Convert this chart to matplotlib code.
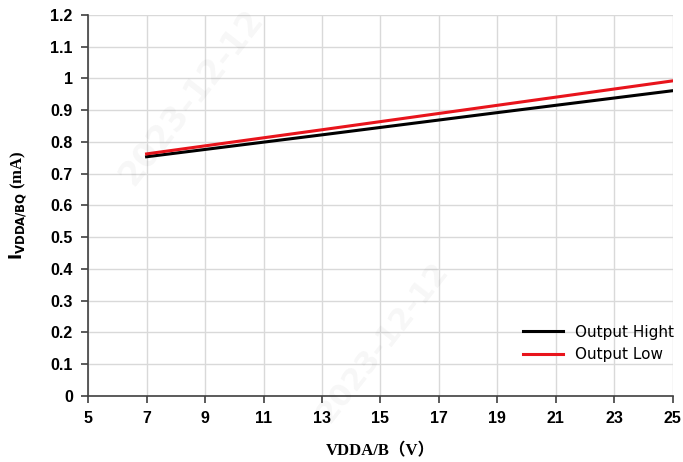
import matplotlib.pyplot as plt

# supply voltage (V) and quiescent current (mA)
vdda = [7, 13, 19, 25]
i_high = [0.753, 0.822, 0.892, 0.961]
i_low = [0.762, 0.838, 0.915, 0.992]

x_ticks = [5, 7, 9, 11, 13, 15, 17, 19, 21, 23, 25]
y_ticks = [0, 0.1, 0.2, 0.3, 0.4, 0.5, 0.6, 0.7, 0.8, 0.9, 1, 1.1, 1.2]

fig = plt.figure(figsize=(6.83, 4.62), dpi=100)
ax = fig.add_axes([0.129, 0.143, 0.856, 0.825])

ax.plot(vdda, i_high, color='black', lw=2.2, label='Output Hight', zorder=3)
ax.plot(vdda, i_low, color='#e8141c', lw=2.2, label='Output Low', zorder=4)

ax.set_xlim(5, 25)
ax.set_ylim(0, 1.2)
ax.set_xticks(x_ticks)
ax.set_yticks(y_ticks)
ax.set_xticklabels([str(v) for v in x_ticks])
ax.set_yticklabels(['0' if v == 0 else ('1' if v == 1 else f'{v:.1f}') for v in y_ticks])
ax.grid(color='#d9d9d9', lw=1)
ax.set_axisbelow(True)

for s in ['top', 'right']:
    ax.spines[s].set_visible(False)
for s in ['left', 'bottom']:
    ax.spines[s].set_color('#404040')
    ax.spines[s].set_linewidth(1.2)

ax.tick_params(axis='both', length=5, width=1.2, color='#404040', labelsize=11.5, pad=6)
for lab in ax.get_xticklabels() + ax.get_yticklabels():
    lab.set_fontweight('bold')
    lab.set_family('Liberation Sans')

ax.set_xlabel('VDDA/B（V）', fontsize=12, fontweight='bold',
              family=['Liberation Serif', 'Noto Sans CJK SC'], labelpad=12)
ax.set_ylabel(r'$\mathbf{I_{VDDA/BQ}}$ (mA)', fontsize=12, fontweight='bold',
              family='Liberation Serif', labelpad=16)

leg = ax.legend(loc='lower right', frameon=False, fontsize=11,
                handlelength=2.6, borderaxespad=0.3, labelspacing=0.5,
                bbox_to_anchor=(1.02, 0.06))

# faint date stamps
fig.text(0.28, 0.79, '2023-12-12', rotation=52, fontsize=24, color='#000000',
         alpha=0.035, ha='center', va='center', fontweight='bold')
fig.text(0.56, 0.26, '2023-12-12', rotation=52, fontsize=22, color='#000000',
         alpha=0.035, ha='center', va='center', fontweight='bold')

fig.savefig('out.png', dpi=100)
